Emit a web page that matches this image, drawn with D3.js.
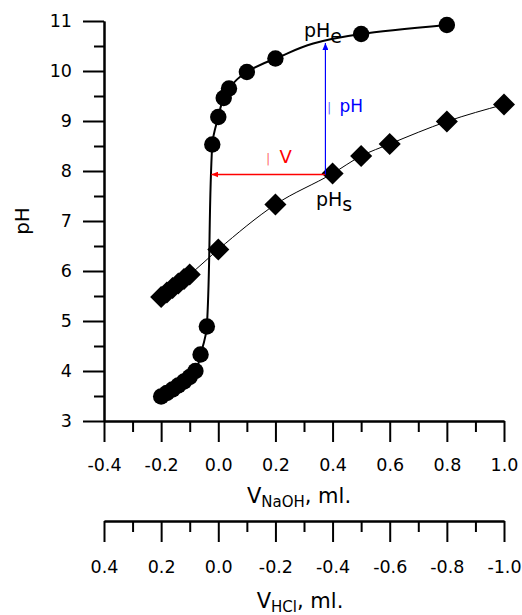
<!DOCTYPE html>
<html>
<head>
<meta charset="utf-8">
<script src="https://cdn.jsdelivr.net/npm/d3@7"></script>
<style>
  body { margin: 0; background: #fff; }
  svg { font-family: "DejaVu Sans", Verdana, sans-serif; }
</style>
</head>
<body>
<svg id="chart" width="522" height="615"></svg>
<script>
    // titration with NaOH (circles)
    var naohV  = [-0.2, -0.18, -0.16, -0.14, -0.12, -0.1, -0.08, -0.062, -0.04, -0.021, 0.0, 0.019, 0.0375, 0.1, 0.2, 0.5, 0.8];
    var naohPH = [3.49, 3.56, 3.63, 3.71, 3.79, 3.88, 4.00, 4.33, 4.89, 8.53, 9.08, 9.46, 9.65, 9.98, 10.25, 10.74, 10.92];
    // second curve (diamonds)
    var sampV  = [-0.2, -0.18, -0.16, -0.14, -0.12, -0.1, 0.0, 0.2, 0.4, 0.5, 0.6, 0.8, 1.0];
    var sampPH = [5.48, 5.57, 5.66, 5.75, 5.84, 5.93, 6.43, 7.33, 7.95, 8.30, 8.54, 8.99, 9.33];

    var xTicks   = [-0.4, -0.2, 0.0, 0.2, 0.4, 0.6, 0.8, 1.0];
    var xMinor   = [-0.3, -0.1, 0.1, 0.3, 0.5, 0.7, 0.9];
    var hclTicks = [0.4, 0.2, 0.0, -0.2, -0.4, -0.6, -0.8, -1.0];
    var hclMinor = [0.3, 0.1, -0.1, -0.3, -0.5, -0.7, -0.9];
    var yTicks   = [3, 4, 5, 6, 7, 8, 9, 10, 11];
    var yMinor   = [3.5, 4.5, 5.5, 6.5, 7.5, 8.5, 9.5, 10.5];

    // delta V / delta pH construction
    var markV  = [-0.024, 0.375];
    var markPH = [7.93, 10.56];

    var svg = d3.select("#chart");

    var x = d3.scaleLinear().domain([-0.4, 1.0]).range([104, 504]);
    var xh = d3.scaleLinear().domain([0.4, -1.0]).range([104, 504]);
    var y = d3.scaleLinear().domain([3, 11]).range([421, 21]);

    var fmt = d => d.toFixed(1);

    function styleAxis(g) {
        g.selectAll("path,line").attr("stroke", "#000").attr("stroke-width", 2);
        g.selectAll("text").attr("font-size", 17.5).attr("fill", "#000")
            .attr("font-family", "DejaVu Sans, Verdana, sans-serif");
    }

    // y axis
    svg.append("g").attr("transform", "translate(104,0)")
        .call(d3.axisLeft(y).tickValues(yMinor).tickSize(10).tickFormat("").tickSizeOuter(0))
        .call(styleAxis);
    svg.append("g").attr("transform", "translate(104,0)")
        .call(d3.axisLeft(y).tickValues(yTicks).tickSize(21).tickPadding(11).tickSizeOuter(0))
        .call(styleAxis);

    // x axis (NaOH)
    svg.append("g").attr("transform", "translate(0,421)")
        .call(d3.axisBottom(x).tickValues(xMinor).tickSize(11).tickFormat("").tickSizeOuter(0))
        .call(styleAxis);
    svg.append("g").attr("transform", "translate(0,421)")
        .call(d3.axisBottom(x).tickValues(xTicks).tickSize(21).tickPadding(17).tickFormat(fmt).tickSizeOuter(0))
        .call(styleAxis);

    // second x axis (HCl)
    svg.append("g").attr("transform", "translate(0,521)")
        .call(d3.axisBottom(xh).tickValues(hclMinor).tickSize(11).tickFormat("").tickSizeOuter(0))
        .call(styleAxis);
    svg.append("g").attr("transform", "translate(0,521)")
        .call(d3.axisBottom(xh).tickValues(hclTicks).tickSize(21).tickPadding(19).tickFormat(fmt).tickSizeOuter(0))
        .call(styleAxis);

    // axis titles
    svg.append("text")
        .attr("transform", "translate(29,221) rotate(-90)")
        .attr("text-anchor", "middle")
        .attr("font-size", 20)
        .text("pH");

    var t1 = svg.append("text").attr("x", 299).attr("y", 503)
        .attr("text-anchor", "middle").attr("font-size", 21);
    t1.append("tspan").text("V");
    t1.append("tspan").attr("font-size", 15).attr("dy", 4).text("NaOH");
    t1.append("tspan").attr("dy", -4).text(", ml.");

    var t2 = svg.append("text").attr("x", 300).attr("y", 608)
        .attr("text-anchor", "middle").attr("font-size", 21);
    t2.append("tspan").text("V");
    t2.append("tspan").attr("font-size", 15).attr("dy", 4).text("HCl");
    t2.append("tspan").attr("dy", -4).text(", ml.");

    // curves
    var naoh = naohV.map((v, i) => [v, naohPH[i]]);
    var samp = sampV.map((v, i) => [v, sampPH[i]]);

    svg.append("path")
        .attr("d", d3.line().x(d => x(d[0])).y(d => y(d[1])).curve(d3.curveMonotoneX)(samp))
        .attr("fill", "none").attr("stroke", "#000").attr("stroke-width", 1);

    svg.append("path")
        .attr("d", d3.line().x(d => x(d[0])).y(d => y(d[1])).curve(d3.curveMonotoneY)(naoh))
        .attr("fill", "none").attr("stroke", "#000").attr("stroke-width", 2);

    // markers
    svg.append("g").selectAll("rect").data(samp).join("rect")
        .attr("x", -7.8).attr("y", -7.8).attr("width", 15.6).attr("height", 15.6)
        .attr("transform", d => "translate(" + x(d[0]) + "," + y(d[1]) + ") rotate(45)")
        .attr("fill", "#000");

    svg.append("g").selectAll("circle").data(naoh).join("circle")
        .attr("cx", d => x(d[0])).attr("cy", d => y(d[1])).attr("r", 8.2)
        .attr("fill", "#000");

    // arrows
    var defs = svg.append("defs");
    [["arrRed", "#f00"], ["arrBlue", "#00f"]].forEach(function (a) {
        defs.append("marker").attr("id", a[0])
            .attr("viewBox", "0 -3 7 6").attr("refX", 7).attr("refY", 0)
            .attr("markerUnits", "userSpaceOnUse")
            .attr("markerWidth", 7).attr("markerHeight", 6).attr("orient", "auto")
            .append("path").attr("d", "M0,-3L7,0L0,3Z").attr("fill", a[1]);
    });

    svg.append("line")
        .attr("x1", x(markV[1])).attr("y1", y(markPH[0]))
        .attr("x2", x(markV[0])).attr("y2", y(markPH[0]))
        .attr("stroke", "#f00").attr("stroke-width", 1.5)
        .attr("marker-end", "url(#arrRed)");

    svg.append("line")
        .attr("x1", x(markV[1])).attr("y1", y(markPH[0]))
        .attr("x2", x(markV[1])).attr("y2", y(markPH[1]))
        .attr("stroke", "#00f").attr("stroke-width", 1.2)
        .attr("marker-end", "url(#arrBlue)");

    // labels
    var lv = svg.append("text").attr("x", 266).attr("y", 163).attr("fill", "#f00").attr("font-size", 18);
    lv.append("tspan").attr("font-size", 13).attr("fill-opacity", 0.6).text("|");
    lv.append("tspan").attr("dx", 9).text("V");

    var lp = svg.append("text").attr("x", 327).attr("y", 112).attr("fill", "#00f").attr("font-size", 17);
    lp.append("tspan").attr("font-size", 13).attr("fill-opacity", 0.6).text("|");
    lp.append("tspan").attr("dx", 8).text("pH");

    var le = svg.append("text").attr("x", 304).attr("y", 37).attr("font-size", 19);
    le.append("tspan").text("pH");
    le.append("tspan").attr("dy", 6).text("e");

    var ls = svg.append("text").attr("x", 316).attr("y", 206).attr("font-size", 19);
    ls.append("tspan").text("pH");
    ls.append("tspan").attr("dy", 5).text("s");
</script>
</body>
</html>
